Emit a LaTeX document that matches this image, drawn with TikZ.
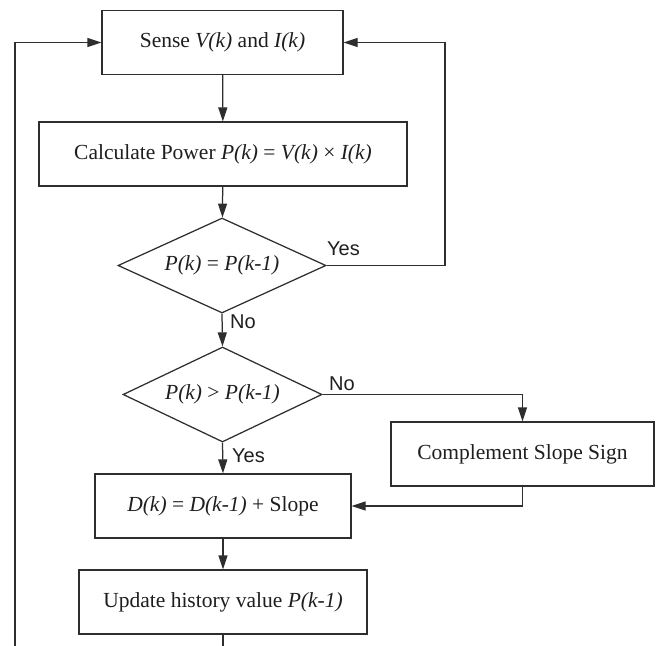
\documentclass[tikz,border=0pt]{standalone}
\usepackage{fontspec}
\setmainfont{Liberation Serif}
\newfontfamily\labelfont{Liberation Sans}
\usetikzlibrary{shapes.geometric,arrows.meta}

\definecolor{inkline}{HTML}{2E2E2E}
\definecolor{inktext}{HTML}{1E1E1E}

\begin{document}
\begin{tikzpicture}[x=1pt,y=-1pt,
  every node/.style={text=inktext},
  procbox/.style={draw=inkline,line width=1.25pt,rectangle,inner sep=0pt,
    minimum height=64pt,font=\fontsize{21.5}{25}\selectfont},
  decision/.style={draw=inkline,line width=1.25pt,diamond,shape aspect=2.2,
    inner sep=0pt,minimum height=95pt,font=\fontsize{21.5}{25}\selectfont},
  flow/.style={draw=inkline,line width=1.25pt},
  flowarrow/.style={flow,-{Triangle[length=14pt,width=9pt]}},
  answer/.style={font=\labelfont\fontsize{20}{22}\selectfont,inner sep=0pt}]

  % canvas
  \useasboundingbox (0,0) rectangle (657,646);

  % process boxes
  \node[procbox,minimum width=241pt] (sense) at (222.5,42.5)
    {Sense \textit{V(k)} and \textit{I(k)}};
  \node[procbox,minimum width=368pt] (calc) at (223,154)
    {Calculate Power \textit{P(k)} = \textit{V(k)} × \textit{I(k)}};
  \node[decision,minimum width=208pt] (eq) at (222,265.5)
    {\textit{P(k)} = \textit{P(k-1)}};
  \node[decision,minimum width=199pt] (gt) at (222.5,394.5)
    {\textit{P(k)} > \textit{P(k-1)}};
  \node[procbox,minimum width=263pt] (comp) at (522.5,454)
    {Complement Slope Sign};
  \node[procbox,minimum width=256pt] (duty) at (223,506)
    {\textit{D(k)} = \textit{D(k-1)} + Slope};
  \node[procbox,minimum width=288pt] (upd) at (223,602)
    {Update history value \textit{P(k-1)}};

  % loose ends of the return path
  \coordinate (loopin) at (15,646);
  \coordinate (loopout) at (223,646);
  \coordinate (yesturn) at (445,265.5);

  % connectors
  \draw[flowarrow] (sense) -- (calc);
  \draw[flowarrow] (calc) -- (eq);
  \draw[flowarrow] (eq.east) -- (yesturn) |- (sense.east);
  \draw[flowarrow] (eq.south) -- (gt.north);
  \draw[flowarrow] (gt.east) -| (comp.north);
  \draw[flowarrow] (gt.south) -- (duty.north);
  \draw[flowarrow] (comp.south) |- (duty.east);
  \draw[flowarrow] (duty) -- (upd);
  \draw[flow] (upd.south) -- (loopout);
  \draw[flowarrow] (loopin) |- (sense.west);

  % branch labels
  \node[answer,anchor=south west] (eqyes) at (327,256) {Yes};
  \node[answer,anchor=north west] (eqno) at (230,315) {No};
  \node[answer,anchor=south west] (gtno) at (329,391) {No};
  \node[answer,anchor=north west] (gtyes) at (232,449) {Yes};
\end{tikzpicture}
\end{document}
